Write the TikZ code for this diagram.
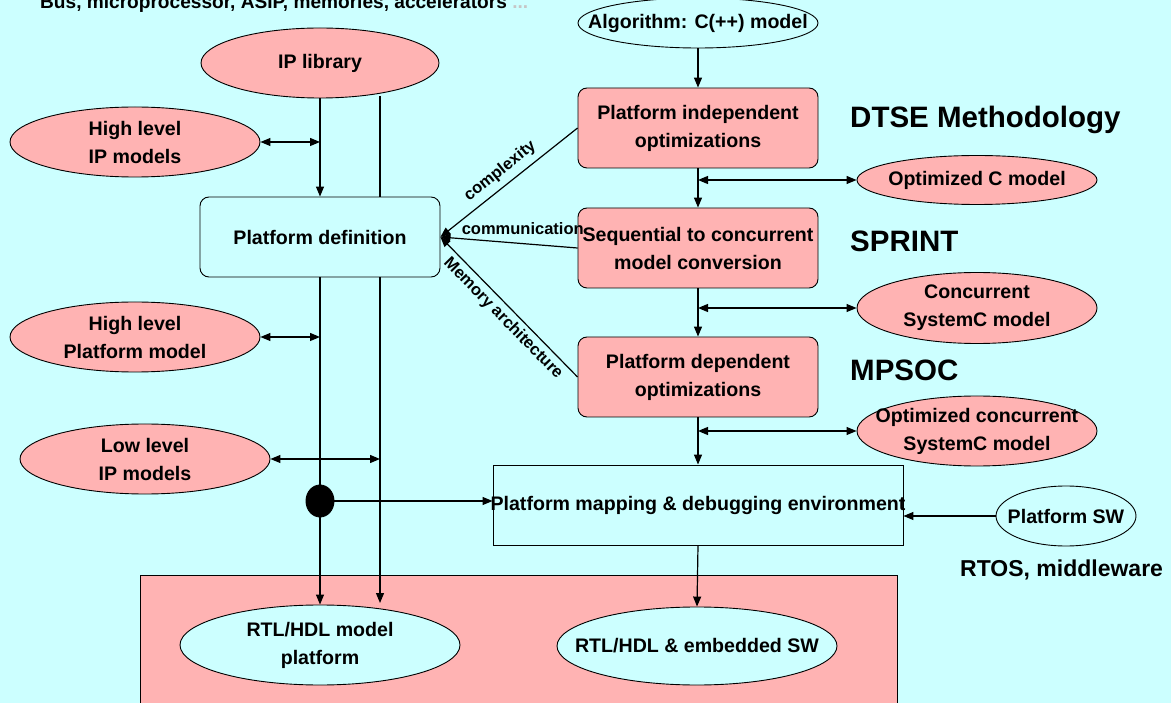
\documentclass[tikz,border=0pt]{standalone}
\usepackage{fontspec}
\setmainfont{Liberation Sans}
\usetikzlibrary{shapes.geometric,arrows.meta}
\definecolor{bgc}{HTML}{CCFFFF}
\definecolor{pk}{HTML}{FFB3B3}
\newcommand\dgmain{\fontsize{19.6}{28}\selectfont\bfseries}
\newcommand\dgtop{\fontsize{19.1}{28}\selectfont\bfseries}
\newcommand\dgbig{\fontsize{29.5}{34}\selectfont\bfseries}
\newcommand\dgrtos{\fontsize{23}{28}\selectfont\bfseries}
\newcommand\dgsmall{\fontsize{16.5}{19}\selectfont\bfseries}
\begin{document}
\begin{tikzpicture}[x=1pt,y=-1pt,
 txt/.style={font=\dgmain, align=center},
 ell/.style={ellipse, draw, line width=0.9pt, inner sep=0pt},
 pkell/.style={ell, fill=pk},
 cyell/.style={ell, fill=bgc},
 pkbox/.style={draw, line width=0.9pt, fill=pk, rounded corners=9pt, minimum width=240pt, minimum height=80pt, txt},
 cybox/.style={draw, line width=0.9pt, fill=bgc, rounded corners=9pt, minimum width=240pt, minimum height=80pt, txt},
 biglbl/.style={font=\dgbig, anchor=west, inner sep=0pt},
 lnk/.style={font=\dgsmall, inner sep=1pt},
 conn/.style={line width=1.2pt},
 arr/.style={conn, -{Triangle[length=10pt,width=8pt]}},
 darr/.style={conn, {Triangle[length=10pt,width=8pt]}-{Triangle[length=10pt,width=8pt]}},
 rarr/.style={conn, {Triangle[length=10pt,width=8pt]}-},
]
\useasboundingbox (0,0) rectangle (1171,703);
\clip (0,0) rectangle (1171,703);
\fill[bgc] (0,0) rectangle (1171,703);
\draw[line width=0.9pt, fill=pk] (140,575) rectangle (897,720);

\node[anchor=base west, font=\dgtop, inner sep=0pt] (bus) at (40,9) {Bus, microprocessor, ASIP, memories, accelerators {\color{gray!45}...}};

\node[cyell, minimum width=240pt, minimum height=50pt, label={[txt]center:{Algorithm: C(++) model}}] (alg) at (698,23) {};
\node[pkell, minimum width=238pt, minimum height=70pt, label={[txt]center:{IP library}}] (iplib) at (320,63) {};
\node[pkbox] (pio) at (698,128) {Platform independent\\optimizations};
\node[biglbl] (dtse) at (850,120) {DTSE Methodology};
\node[pkell, minimum width=250pt, minimum height=70pt, label={[txt]center:{High level\\IP models}}] (hlip) at (135,142) {};
\node[pkell, minimum width=240pt, minimum height=49pt, label={[txt]center:{Optimized C model}}] (ocm) at (977,180) {};
\node[cybox] (pdef) at (320,237) {Platform definition};
\node[pkbox] (seq) at (698,248) {Sequential to concurrent\\model conversion};
\node[biglbl] (sprint) at (850,241) {SPRINT};
\node[pkell, minimum width=240pt, minimum height=71pt, label={[txt]center:{Concurrent\\SystemC model}}] (csc) at (977,308) {};
\node[pkell, minimum width=250pt, minimum height=70pt, label={[txt]center:{High level\\Platform model}}] (hlpm) at (135,337) {};
\node[pkbox] (pdep) at (698,377) {Platform dependent\\optimizations};
\node[biglbl] (mpsoc) at (850,370) {MPSOC};
\node[pkell, minimum width=240pt, minimum height=70pt, label={[txt]center:{Optimized concurrent\\SystemC model}}] (ocsc) at (977,431) {};
\node[pkell, minimum width=250pt, minimum height=70pt, label={[txt]center:{Low level\\IP models}}] (llip) at (145,459) {};
\node[draw, line width=0.9pt, fill=bgc, minimum width=410pt, minimum height=80pt, label={[txt]center:{Platform mapping \& debugging environment}}] (pmap) at (698,505) {};
\node[ell, fill=black, minimum width=28pt, minimum height=32pt] (dot) at (320,501) {};
\node[cyell, minimum width=140pt, minimum height=60pt, label={[txt]center:{Platform SW}}] (psw) at (1066,516) {};
\node[anchor=west, font=\dgrtos, inner sep=0pt] (rtos) at (960,570) {RTOS, middleware};
\node[cyell, minimum width=280pt, minimum height=80pt, label={[txt]center:{RTL/HDL model\\platform}}] (rtl) at (320,645) {};
\node[cyell, minimum width=280pt, minimum height=78pt, label={[txt]center:{RTL/HDL \& embedded SW}}] (rtlsw) at (697,646) {};

\coordinate (r1) at (380,96);
\coordinate (r2) at (380,603);

\draw[arr] (alg.south) -- (pio.north);
\draw[arr] (pio.south) -- (seq.north);
\draw[arr] (seq.south) -- (pdep.north);
\draw[arr] (pdep.south) -- (pmap.north);
\draw[arr] (pmap.south) -- (rtlsw.north);
\draw[darr] (ocm.west -| pio.south) -- (ocm.west);
\draw[darr] (csc.west -| seq.south) -- (csc.west);
\draw[darr] (ocsc.west -| pdep.south) -- (ocsc.west);
\draw[arr] (iplib.south) -- (pdef.north);
\draw[conn] (r1) -- (r1 |- pdef.north);
\draw[arr] (pdef.south) -- (rtl.north);
\draw[arr] (r1 |- pdef.south) -- (r2);
\draw[darr] (hlip.east) -- (hlip.east -| pdef.north);
\draw[darr] (hlpm.east) -- (hlpm.east -| pdef.south);
\draw[darr] (llip.east) -- (llip.east -| r1);
\draw[arr] (dot.east) -- (dot.east -| pmap.west);
\draw[arr] (psw.west) -- (psw.west -| pmap.east);
\draw[rarr] (pdef.east) -- node[lnk, sloped, pos=0.5, above=5pt] {complexity} (pio.west);
\draw[rarr] (pdef.east) -- node[lnk, pos=0.6, above=7pt] {communication} (seq.west);
\draw[rarr] (pdef.east) -- node[lnk, sloped, pos=0.52, below=3pt] {Memory architecture} (pdep.west);
\end{tikzpicture}
\end{document}
